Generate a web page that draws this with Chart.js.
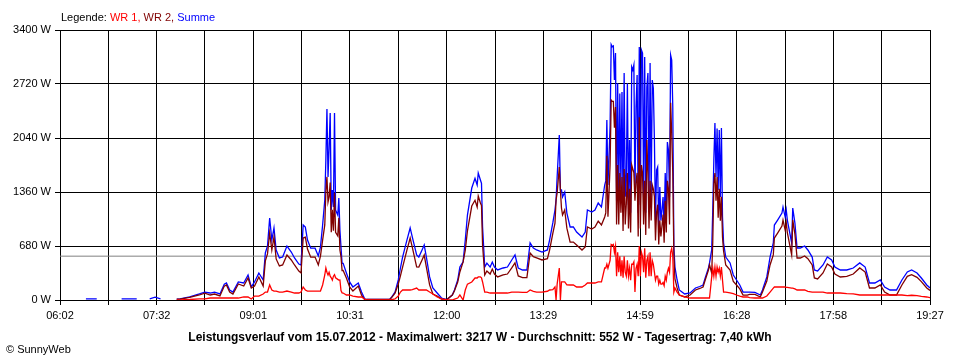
<!DOCTYPE html>
<html>
<head>
<meta charset="utf-8">
<script src="https://cdn.jsdelivr.net/npm/chart.js@4.4.1/dist/chart.umd.min.js"></script>
<style>
  body { margin: 0; background: #fff; }
  #wrap { position: relative; width: 960px; height: 360px; font-family: "Liberation Sans", Arial, sans-serif; color: #000; }
  #chart { position: absolute; left: 0; top: 0; }
  #legend { position: absolute; left: 61px; top: 11px; font-size: 11px; line-height: 12px; white-space: nowrap; }
  #title { position: absolute; left: 0; top: 330px; width: 960px; text-align: center; font-size: 12px; line-height: 14px; font-weight: bold; white-space: nowrap; }
  #copy { position: absolute; left: 6px; top: 343px; font-size: 11px; line-height: 12px; white-space: nowrap; }
</style>
</head>
<body>
<div id="wrap">
  <canvas id="chart" width="960" height="360"></canvas>
  <div id="legend">Legende: <span style="color:#ff0000">WR 1,</span> <span style="color:#800000">WR 2,</span> <span style="color:#0000ff">Summe</span></div>
  <div id="title">Leistungsverlauf vom 15.07.2012 - Maximalwert: 3217 W - Durchschnitt: 552 W - Tagesertrag: 7,40 kWh</div>
  <div id="copy">© SunnyWeb</div>
</div>
<script>
// time of day in minutes since midnight (06:02 = 362, 19:27 = 1167)
const dayStart = 362;
const dayEnd = 1167;
const tickLabels = ['06:02', '07:32', '09:01', '10:31', '12:00', '13:29', '14:59', '16:28', '17:58', '19:27'];
const average = 552;

const times = [
  386, 396, 400, 419, 433, 438, 445, 450, 455, 462,
  470, 473, 482, 491, 496, 501, 505, 510, 514, 516, 519, 522, 527, 532, 536, 539, 542, 546, 550, 552, 554, 556, 558, 560, 562, 565, 568, 572, 576, 579, 583,
  585, 587, 589, 591, 594, 598, 601, 603, 605, 607, 608, 609, 610, 611, 612, 613, 614, 615, 616, 617,
  619, 620, 621, 622, 623, 624, 627, 630, 633, 638, 641, 644, 646, 667, 669, 672, 675, 677, 679, 683,
  686, 688, 692, 694, 697, 699, 701, 704, 707, 711, 715, 720, 725, 727, 730, 732,
  735, 737, 739, 743, 746, 748, 749, 751, 752, 753, 755, 757, 760, 762, 764, 767, 772, 776, 780, 783,
  786, 790, 794, 797, 800, 803, 808, 813, 815, 818, 820, 821, 822, 824, 825, 826, 827, 829, 831, 834,
  837, 840, 845, 848, 850, 854, 857, 860, 863, 866,
  867, 868, 869, 870, 871, 872, 873, 874, 875, 876, 877, 878, 879, 880, 881, 882, 883, 884, 885, 886,
  887, 888, 889, 890, 891, 892, 893, 894, 895, 896, 897, 898, 899, 900, 901, 902, 903, 904, 905, 906,
  907, 908, 909, 910, 911, 912, 913, 914, 915, 916, 917, 918, 919, 920, 921, 922, 923, 924, 925, 926,
  927, 928, 929, 930, 931, 933, 935,
  940, 945, 950, 954, 957, 959, 962,
  963, 965, 966, 967, 968, 969, 970, 971, 972, 973, 974, 975, 976, 978, 982, 985, 988, 991, 994, 998,
  1000, 1005, 1010, 1012, 1016, 1019, 1022, 1023, 1026, 1030, 1031, 1033, 1034, 1035, 1039, 1040, 1042, 1044, 1047, 1051,
  1054, 1058, 1060, 1063, 1068, 1072, 1076, 1079, 1084, 1090, 1096, 1102, 1107, 1111, 1116, 1121, 1125, 1130, 1136, 1141,
  1146, 1150, 1155, 1159, 1164, 1167
];

// WR 1, watts
const wr1 = [
  null, null, null, null, null, null, null, null, null, null,
  0, 2, 6, 13, 13, 25, 25, 25, 25, 25, 25, 25, 25, 38, 38, 13, 50, 50, 76, 100, 100, 189, 126, 113, 113, 100, 100, 113, 100, 88, 88,
  100, 164, 126, 113, 113, 113, 113, 113, 189, 315, 403, 350, 315, 350, 300, 280, 250, 300, 320, 280,
  260, 250, 252, 120, 90, 88, 63, 63, 50, 38, 38, 10, 0, 0, 5, 13, 50, 100, 126, 126,
  126, 130, 150, 126, 126, 126, 126, 100, 76, 38, 13, 0, 0, 10, 25, 63,
  0, 126, 200, 227, 277, 277, 290, 290, 280, 227, 100, 100, 88, 88, 88, 88, 88, 88, 100, 100,
  100, 95, 95, 126, 110, 100, 100, 110, 126, 130, 164, 0, 200, 403, 0, 227, 227, 227, 190, 189,
  189, 164, 164, 189, 214, 214, 214, 227, 227, 403,
  403, 450, 400, 450, 500, 700, 690, 700, 600, 680, 300, 600, 350, 550, 300, 500, 280, 550, 350, 300,
  500, 300, 400, 250, 450, 450, 480, 100, 400, 450, 300, 680, 300, 600, 550, 350, 650, 280, 500, 550,
  300, 600, 300, 500, 450, 350, 250, 300, 300, 200, 250, 200, 200, 220, 180, 300, 250, 350, 400, 350,
  600, 650, 550, 100, 150, 100, 63,
  38, 25, 25, 25, 25, 25, 25,
  25, 290, 400, 300, 415, 300, 415, 350, 400, 300, 415, 250, 100, 100, 90, 80, 63, 50, 38, 38,
  30, 25, 25, 25, 50, 100, 150, 164, 164, 164, 164, 164, 160, 160, 150, 150, 140, 126, 126, 126,
  110, 100, 100, 100, 100, 88, 88, 88, 88, 80, 76, 63, 63, 63, 63, 63, 63, 63, 63, 63,
  55, 60, 55, 45, 38, 30
];

// WR 2, watts
const wr2 = [
  null, null, null, null, null, null, null, null, null, null,
  10, 11, 32, 63, 87, 63, 75, 51, 175, 189, 101, 75, 202, 176, 277, 151, 177, 290, 176, 492, 580, 844, 629, 794, 517, 429, 441, 567, 504, 441, 365,
  341, 780, 792, 642, 540, 540, 441, 553, 755, 945, 1360, 1550, 1234, 1300, 1480, 853, 1135, 871, 1350, 853,
  808, 1034, 629, 547, 371, 373, 278, 164, 114, 176, 62, 3, 6, 6, 33, 87, 202, 303, 415, 629,
  781, 663, 417, 415, 504, 566, 415, 190, 76, 50, 12, 6, 63, 116, 227, 353,
  480, 629, 870, 1183, 1256, 1171, 1309, 1221, 1190, 692, 315, 365, 327, 390, 327, 290, 315, 327, 404, 467,
  303, 283, 283, 592, 545, 530, 504, 520, 629, 840, 969, 1259, 1349, 1674, 1385, 1158, 1070, 1133, 905, 730,
  730, 692, 629, 667, 919, 894, 919, 994, 944, 1045,
  1097, 1816, 1050, 1350, 1703, 2517, 2500, 2500, 2170, 2430, 950, 1700, 950, 1600, 1100, 1550, 870, 1650, 950, 1210,
  1600, 900, 1400, 850, 1700, 1650, 1600, 1250, 1500, 1600, 800, 2300, 900, 1700, 1600, 950, 1500, 820, 2015, 1600,
  900, 1500, 1000, 1450, 1400, 1300, 750, 1100, 1200, 700, 1000, 800, 933, 1077, 720, 1250, 850, 1500, 1400, 950,
  2485, 2100, 1600, 567, 265, 152, 63,
  38, 63, 126, 145, 164, 252, 378,
  442, 340, 733, 1463, 1600, 1249, 1550, 1035, 1400, 997, 1300, 795, 618, 441, 377, 235, 189, 139, 62, 62,
  70, 70, 38, 101, 240, 441, 568, 780, 843, 931, 1007, 881, 973, 847, 568, 1008, 830, 529, 529, 554,
  520, 441, 278, 265, 341, 453, 416, 327, 290, 298, 327, 404, 352, 151, 151, 189, 101, 63, 63, 189,
  298, 318, 285, 232, 151, 121
];

// Summe, watts
const summe = [
  15, 15, null, 15, 15, null, 15, 35, 15, null,
  10, 13, 38, 76, 100, 88, 100, 76, 200, 214, 126, 100, 227, 214, 315, 164, 227, 340, 252, 592, 680, 1033, 755, 907, 630, 529, 541, 680, 604, 529, 453,
  441, 944, 918, 755, 653, 653, 554, 666, 944, 1259, 1763, 2405, 1549, 1914, 2354, 1133, 1385, 1171, 2354, 1133,
  1070, 1284, 881, 667, 461, 461, 341, 227, 164, 214, 100, 13, 6, 6, 38, 100, 252, 403, 541, 755,
  907, 793, 567, 541, 630, 692, 541, 290, 152, 88, 25, 6, 63, 126, 252, 416,
  480, 755, 1070, 1410, 1533, 1448, 1599, 1511, 1470, 919, 415, 465, 415, 478, 415, 378, 403, 415, 504, 567,
  403, 378, 378, 718, 655, 630, 604, 630, 755, 970, 1133, 1259, 1549, 2077, 1385, 1385, 1297, 1360, 1095, 919,
  919, 856, 793, 856, 1133, 1108, 1133, 1221, 1171, 1448,
  1500, 2266, 1450, 1800, 2203, 3217, 3190, 3200, 2770, 3110, 1250, 2730, 1300, 2600, 1400, 2620, 1150, 2858, 1300, 1510,
  2730, 1200, 2015, 1100, 2934, 2896, 2960, 1350, 2430, 2833, 1100, 3185, 1200, 3148, 3110, 1300, 3060, 1100, 2680, 2858,
  1200, 2984, 1300, 2770, 2670, 2015, 1000, 1637, 1675, 900, 1423, 1000, 1133, 1297, 900, 1600, 1100, 1990, 1889, 1300,
  3085, 3022, 2430, 667, 415, 252, 126,
  76, 88, 151, 170, 189, 277, 403,
  467, 630, 1133, 1763, 2228, 1549, 2160, 1385, 2140, 1297, 2165, 1045, 718, 541, 467, 315, 252, 189, 100, 100,
  100, 95, 63, 126, 290, 541, 718, 944, 1007, 1095, 1171, 1045, 1133, 1007, 718, 1158, 970, 655, 655, 680,
  630, 541, 378, 365, 441, 541, 504, 415, 378, 378, 403, 467, 415, 214, 214, 252, 164, 126, 126, 252,
  353, 378, 340, 277, 189, 151
];

// vertical grid every 1/18 of the day span, labelled every second line
const gridTimes = Array.from({ length: 19 }, (_, i) => dayStart + i * (dayEnd - dayStart) / 18);

const xy = arr => times.map((t, i) => ({ x: t, y: arr[i] }));
const font = { family: 'Liberation Sans', size: 11 };

const ctx = document.getElementById('chart').getContext('2d');
new Chart(ctx, {
    type: 'line',
    data: {
        datasets: [
            { label: 'WR 1', data: xy(wr1), borderColor: '#ff0000' },
            { label: 'WR 2', data: xy(wr2), borderColor: '#800000' },
            { label: 'Summe', data: xy(summe), borderColor: '#0000ff' },
            { label: 'Durchschnitt', data: [{ x: dayStart, y: average }, { x: dayEnd, y: average }], borderColor: '#808080', borderWidth: 1 }
        ]
    },
    options: {
        responsive: false,
        animation: false,
        devicePixelRatio: 1,
        layout: { padding: { top: 30, right: 30, left: 0, bottom: 0 } },
        elements: {
            point: { radius: 0 },
            line: { borderWidth: 1.3, tension: 0 }
        },
        plugins: {
            legend: { display: false },
            tooltip: { enabled: false }
        },
        scales: {
            x: {
                type: 'linear',
                min: dayStart,
                max: dayEnd,
                afterBuildTicks: scale => { scale.ticks = gridTimes.map(v => ({ value: v })); },
                afterFit: scale => { scale.height = 60; },
                grid: { color: '#000', tickColor: '#000', tickLength: 5 },
                border: { color: '#000' },
                ticks: {
                    autoSkip: false,
                    maxRotation: 0,
                    padding: 4,
                    color: '#000',
                    font: font,
                    callback: (v, i) => (i % 2 === 0 ? tickLabels[i / 2] : '')
                }
            },
            y: {
                min: 0,
                max: 3400,
                afterFit: scale => { scale.width = 60; },
                grid: { color: '#000', tickColor: '#000', tickLength: 5 },
                border: { color: '#000' },
                ticks: {
                    stepSize: 680,
                    padding: 4,
                    color: '#000',
                    font: font,
                    callback: v => v + ' W'
                }
            }
        }
    }
});
</script>
</body>
</html>
